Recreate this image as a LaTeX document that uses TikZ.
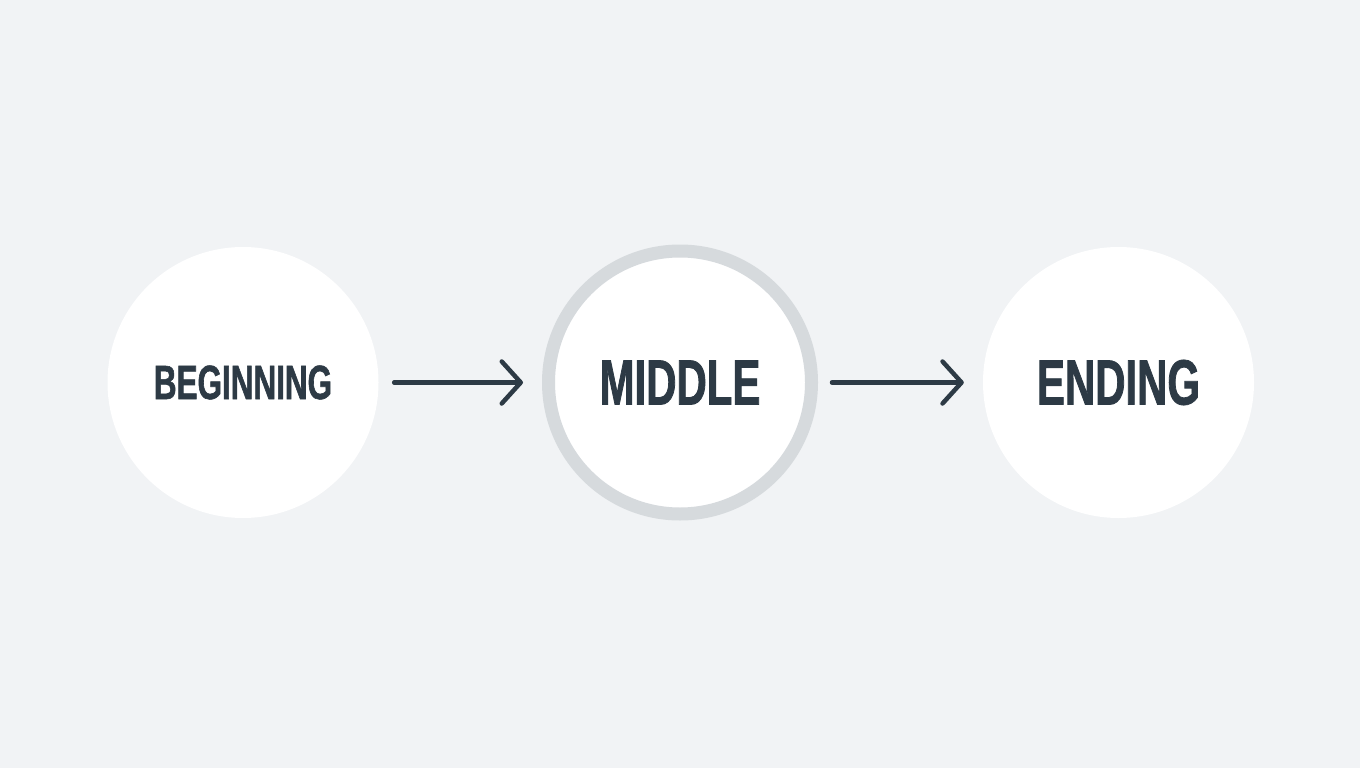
\documentclass[tikz,border=0pt]{standalone}
\usepackage{fontspec}
\newfontfamily\labfont{Liberation Sans}[FakeStretch=0.655, FakeBold=1.2]
\usetikzlibrary{arrows.meta}
\definecolor{bgc}{HTML}{F1F3F5}
\definecolor{ink}{HTML}{2D3A45}
\definecolor{ringc}{HTML}{D6DADD}
\tikzset{
  stage/.style={circle, fill=white, inner sep=0pt, minimum size=271pt, text=ink, font=\labfont\bfseries},
  hilite/.style={stage, draw=ringc, line width=13pt, minimum size=263pt},
  flow/.style={draw=ink, line width=4.5pt, line cap=round,
    -{Straight Barb[length=19pt, width=42pt, line width=4.5pt, line cap=round, line join=round]}},
}
\begin{document}
\begin{tikzpicture}[x=1pt, y=-1pt]
  \fill[bgc] (0,0) rectangle (1360,768);
  \useasboundingbox (0,0) rectangle (1360,768);
  \node[stage, font=\labfont\bfseries\fontsize{48}{48}\selectfont] (b) at (243,382.5) {BEGINNING};
  \node[hilite, font=\labfont\bfseries\fontsize{64}{64}\selectfont] (m) at (680,382.5) {MIDDLE};
  \node[stage, font=\labfont\bfseries\fontsize{64}{64}\selectfont] (e) at (1118.5,382.5) {ENDING};
  \draw[flow, shorten <=15.5pt, shorten >=19pt] (b) -- (m);
  \draw[flow, shorten <=14pt, shorten >=19pt] (m) -- (e);
\end{tikzpicture}
\end{document}
